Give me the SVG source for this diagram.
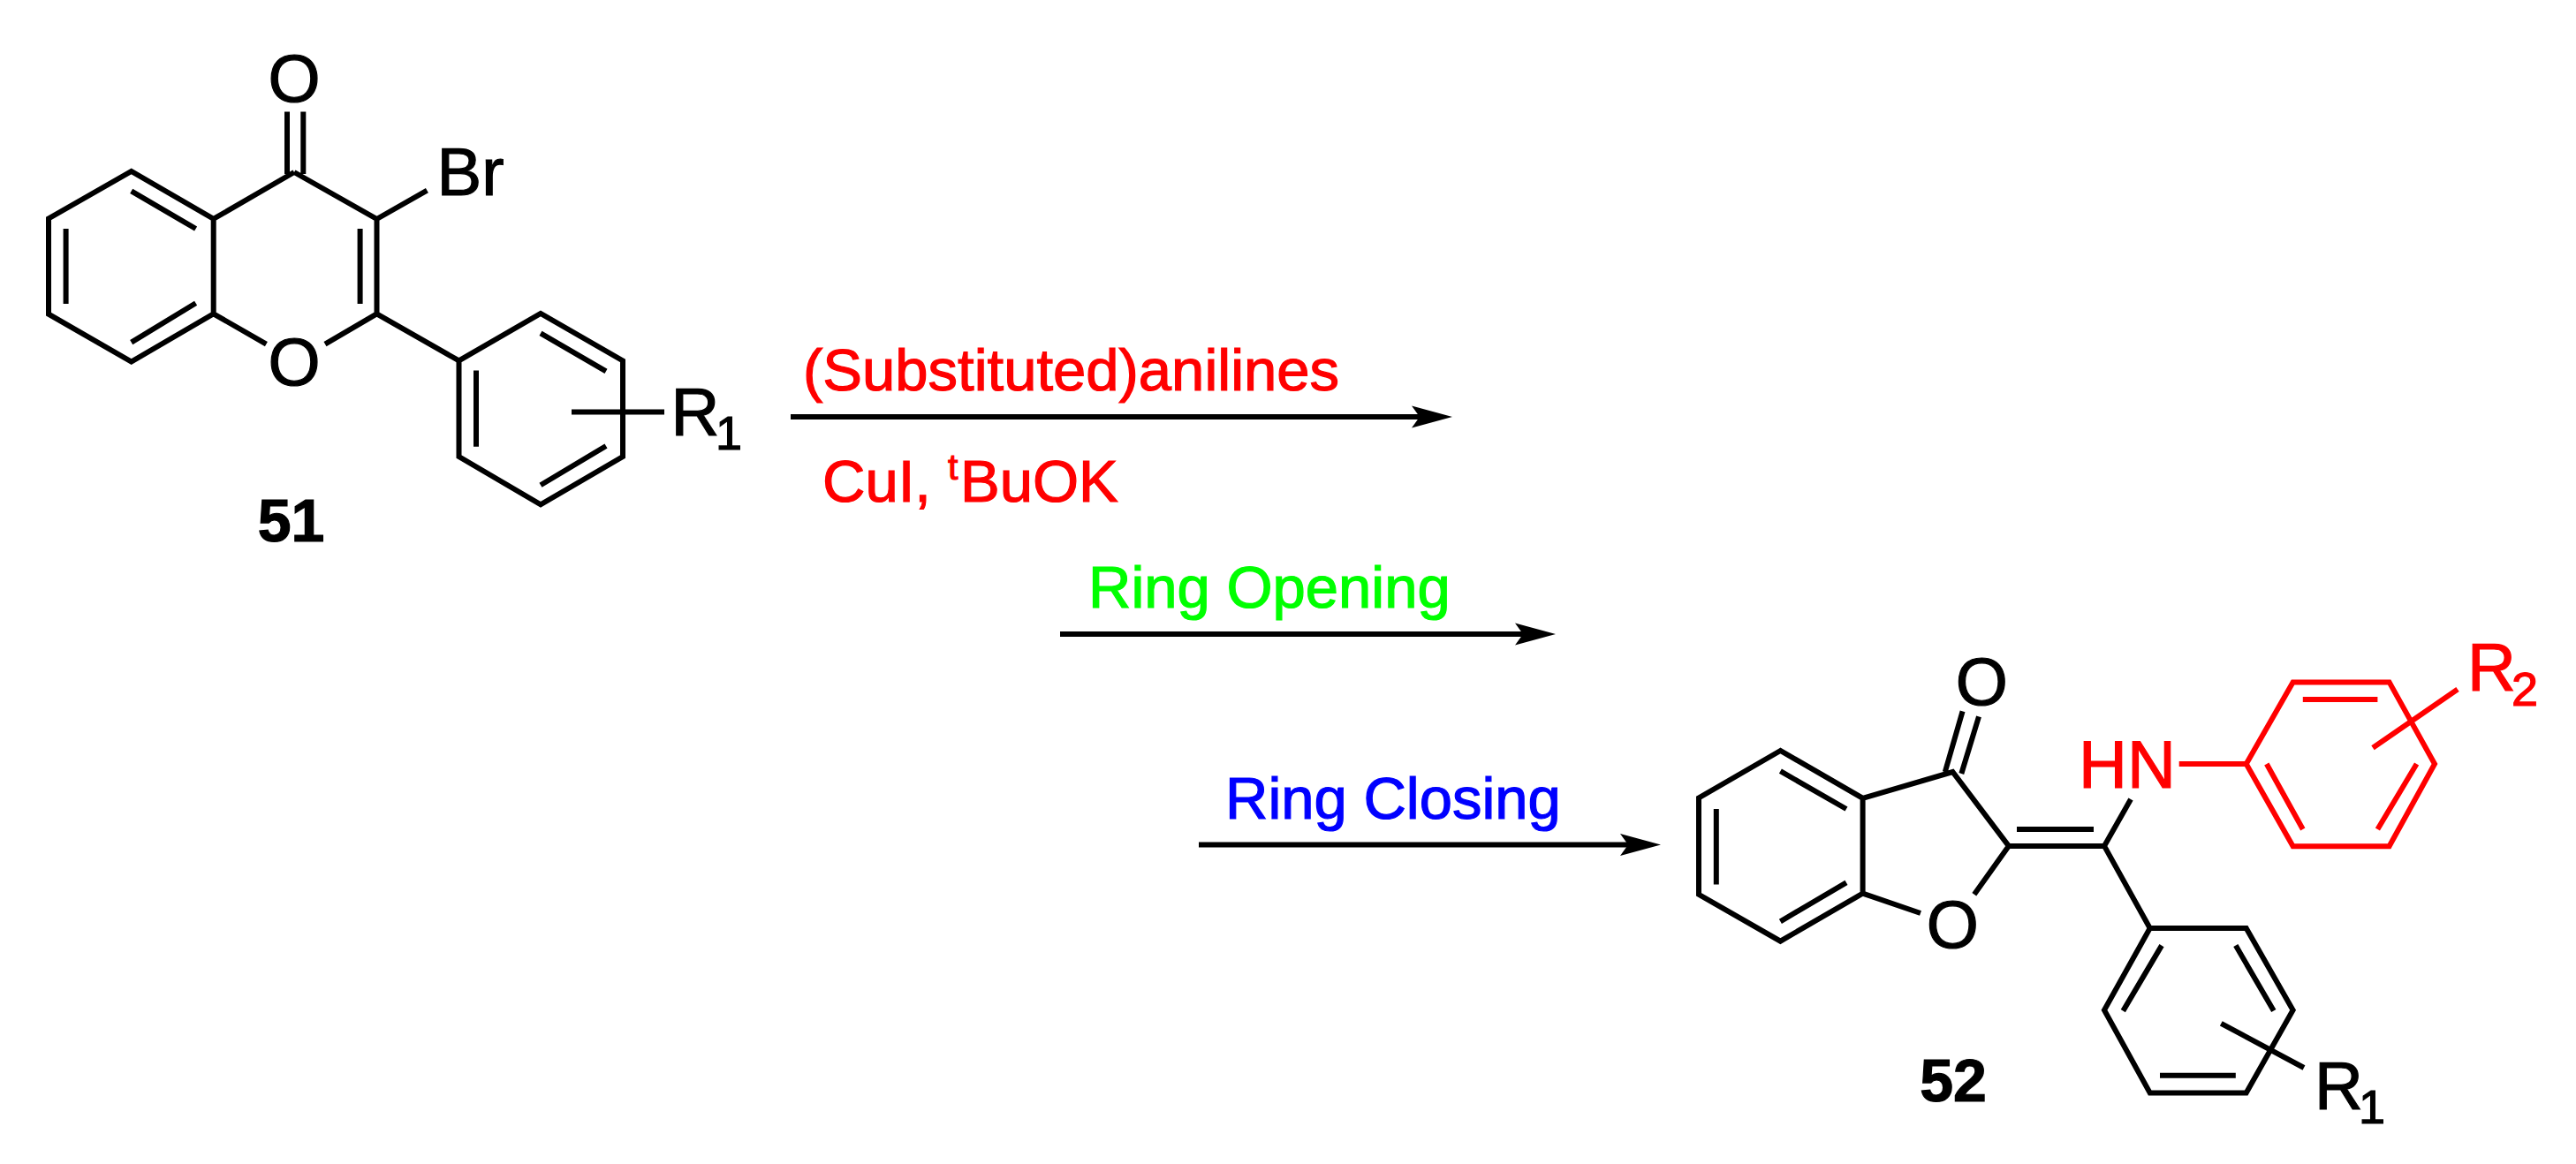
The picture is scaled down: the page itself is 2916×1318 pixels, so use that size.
<svg xmlns="http://www.w3.org/2000/svg" width="2916" height="1318" viewBox="0 0 2916 1318">
<style>
text{font-family:"Liberation Sans",Arial,Helvetica,sans-serif;font-size:76px;fill:#000;stroke:#000;stroke-width:1.2}
.b{fill:none;stroke:#000;stroke-width:6;stroke-linejoin:miter;stroke-linecap:butt}
.r{fill:none;stroke:#f00;stroke-width:6;stroke-linejoin:miter;stroke-linecap:butt}
.sub{font-size:54px}
.id{font-size:68px;font-weight:bold;text-anchor:middle}
.c{text-anchor:middle}
.rl{fill:#f00;stroke:#f00}
.lab{font-size:67px}
.sup{font-size:41px}
.g{fill:#0f0;stroke:#0f0}
.bl{fill:#00f;stroke:#00f}
.arrow{stroke:#000;stroke-width:6;fill:none;marker-end:url(#head)}
</style>
<defs>
<marker id="head" markerUnits="userSpaceOnUse" markerWidth="50" markerHeight="30" refX="9" refY="15" orient="auto" overflow="visible">
<path d="M0,2.5 L46,15 L0,27.5 L9,15 Z" fill="#000"/>
</marker>
</defs>
<rect width="2916" height="1318" fill="#fff"/>
<g id="compound-51">
<path class="b" d="M333,195 L241.7,247.9 L148.7,194 L55,247.5 V355.7 L148.7,409.6 L241.7,355.3 V247.9 M333,195 L426.5,247.9 V355.3 M148.7,216.4 L221.6,259 M74.6,259 V344 M148.7,387.6 L221.6,343.3 M407.6,259 V344 M325,126.5 V197 M343.3,126.5 V197 M241.7,355.3 L301.4,389.7 M426.5,355.3 L368,389.7 M426.5,248 L483.4,215.6 M426.5,355.3 L519.5,408.4"/>
<path class="b" d="M519.5,408.4 L612,355 L705,408.4 V517 L612,571.3 L519.5,517 Z M612,377.3 L686,420.4 M539,419.6 V505.8 M686,505 L612,549.3 M647,466.4 H752"/>
<text class="c" x="333" y="115">O</text>
<text class="c" x="333" y="436">O</text>
<text x="494.5" y="221">Br</text>
<text x="759.6" y="492.5">R</text>
<text class="sub" x="810" y="509">1</text>
<text class="id" x="329.5" y="613">51</text>
</g>
<g id="connectors">
<line class="arrow" x1="895" y1="472" x2="1607" y2="472"/>
<line class="arrow" x1="1200" y1="718" x2="1724" y2="718"/>
<line class="arrow" x1="1357" y1="956.5" x2="1843" y2="956.5"/>
</g>
<g id="label-reagents">
<text class="lab rl" x="909" y="441.5">(Substituted)anilines</text>
<text class="lab rl" x="931" y="568">CuI,</text>
<text class="sup rl" x="1073" y="543">t</text>
<text class="lab rl" x="1087" y="568">BuOK</text>
</g>
<g id="label-ring-opening">
<text class="lab g" x="1232" y="688">Ring Opening</text>
</g>
<g id="label-ring-closing">
<text class="lab bl" x="1387" y="926.5">Ring Closing</text>
</g>
<g id="compound-52">
<path class="b" d="M2015.4,850 L1923,903.4 V1012.8 L2015.4,1065.7 L2108.6,1011.6 V903.8 Z M2108.6,903.8 L2210.4,874 L2273.8,957.9 M2015.4,873.2 L2090,916 M1942.8,916 V1001.4 M2015.4,1043.3 L2090,999.4 M2108.6,1011.6 L2174,1034 M2273.8,957.9 L2234.8,1012.8 M2201.8,874 L2221.6,805.3 M2220.3,876 L2240,811.4 M2273.8,957.9 H2382 M2283,939 H2370 M2382,957.9 L2412,905 M2382,957.9 L2433.7,1051"/>
<path class="b" d="M2433.7,1051 H2542.7 L2595.6,1143.8 L2542.7,1237.4 H2433.7 L2382,1143.8 Z M2447,1070.6 L2403.3,1144.6 M2530.8,1070.6 L2573.8,1144.6 M2445,1217.8 H2530.8 M2514.3,1158.8 L2608,1209"/>
<text class="c" x="2243.4" y="797.5">O</text>
<text class="c" x="2210.4" y="1073">O</text>
<text x="2620" y="1255.7">R</text>
<text class="sub" x="2670" y="1272">1</text>
<text class="id" x="2211" y="1247">52</text>
</g>
<g id="aniline-substituent">
<path class="r" d="M2466.7,865 H2542.7 L2595.6,772.4 H2704.6 L2756,865 L2704.6,958.3 H2595.6 L2542.7,865 M2606.8,791.9 H2691.4 M2565.8,865 L2606.8,939 M2735.6,865 L2691.4,939 M2686,846.8 L2782,780.5"/>
<text class="rl" x="2353" y="892.4">HN</text>
<text class="rl" x="2793" y="781.7">R</text>
<text class="sub rl" x="2843" y="799">2</text>
</g>
</svg>
